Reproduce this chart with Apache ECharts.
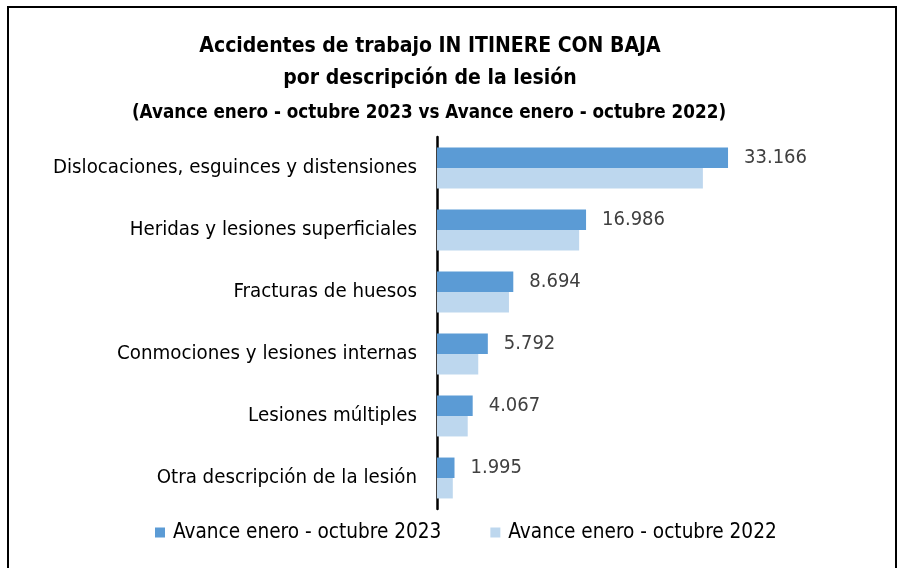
<!DOCTYPE html>
<html>
<head>
<meta charset="utf-8">
<script src="https://cdn.jsdelivr.net/npm/echarts@6/dist/echarts.min.js"></script>
<style>
  html, body { margin: 0; padding: 0; background: #fff; }
  #chart { width: 902px; height: 568px; }
</style>
</head>
<body>
<div id="chart"></div>
<script>
// categorias y valores (2022 estimado a partir de la longitud de las barras)
const categories = [
  'Dislocaciones, esguinces y distensiones',
  'Heridas y lesiones superficiales',
  'Fracturas de huesos',
  'Conmociones y lesiones internas',
  'Lesiones múltiples',
  'Otra descripción de la lesión'
];
const values2023 = [33166, 16986, 8694, 5792, 4067, 1995];
const values2022 = [30300, 16200, 8200, 4700, 3500, 1800];
const seriesNames = ['Avance enero - octubre 2023', 'Avance enero - octubre 2022'];
const titleLines = [
  'Accidentes de trabajo IN ITINERE CON BAJA',
  'por descripción de la lesión',
  '(Avance enero - octubre 2023 vs Avance enero - octubre 2022)'
];

const font = '"Liberation Sans Narrow", "DejaVu Sans Condensed", "Liberation Sans", sans-serif';

function fmt(v) {
  return String(v).replace(/\B(?=(\d{3})+(?!\d))/g, '.');
}

const chart = echarts.init(document.getElementById('chart'));

const option = {
  backgroundColor: '#fff',
  animation: false,
  textStyle: { fontFamily: font },
  title: [
    { text: titleLines[0], left: 425, top: 31, textAlign: 'center',
      textStyle: { fontSize: 21, fontWeight: 'bold', color: '#000', fontFamily: font } },
    { text: titleLines[1], left: 425, top: 63, textAlign: 'center',
      textStyle: { fontSize: 21, fontWeight: 'bold', color: '#000', fontFamily: font } },
    { text: titleLines[2], left: 424, top: 99, textAlign: 'center',
      textStyle: { fontSize: 18.7, fontWeight: 'bold', color: '#000', fontFamily: font } }
  ],
  graphic: [{
    type: 'rect',
    shape: { x: 8, y: 7, width: 888, height: 600 },
    style: { fill: 'none', stroke: '#000', lineWidth: 2 },
    silent: true
  }],
  legend: {
    data: seriesNames,
    left: 150,
    top: 517,
    icon: 'rect',
    itemWidth: 10,
    itemHeight: 10,
    itemGap: 49,
    textStyle: { fontSize: 20.6, color: '#000', fontFamily: font, padding: [0, 0, 0, 3] }
  },
  grid: { left: 437, right: 114, top: 137, bottom: 59, containLabel: false },
  xAxis: {
    type: 'value',
    min: 0,
    max: 40000,
    show: false
  },
  yAxis: {
    type: 'category',
    data: categories,
    inverse: true,
    axisLine: { show: true, lineStyle: { color: '#000', width: 2.5 } },
    axisTick: { show: false },
    axisLabel: { fontSize: 20.3, color: '#000', margin: 20, fontFamily: font, padding: [5, 0, 0, 0] }
  },
  series: [
    {
      name: seriesNames[0],
      type: 'bar',
      data: values2023,
      barGap: '0%',
      barCategoryGap: '34%',
      itemStyle: { color: '#5B9BD5' },
      label: {
        show: true,
        position: 'right',
        distance: 16,
        fontSize: 20,
        color: '#404040',
        fontFamily: font,
        padding: [5, 0, 0, 0],
        formatter: p => fmt(p.value)
      }
    },
    {
      name: seriesNames[1],
      type: 'bar',
      data: values2022,
      itemStyle: { color: '#BDD7EE' }
    }
  ]
};

chart.setOption(option);
</script>
</body>
</html>
